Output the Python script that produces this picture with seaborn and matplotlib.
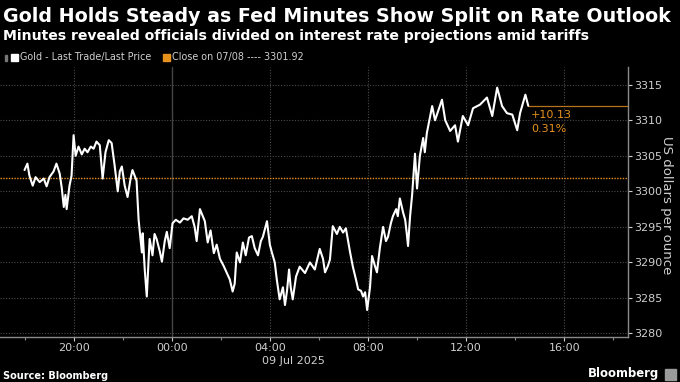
import pandas as pd
import seaborn as sns
import matplotlib.pyplot as plt
import matplotlib.dates as mdates
from matplotlib.patches import Rectangle

# Gold intraday price (times ET, 08-09 Jul 2025)
times = ["18:00", "18:07", "18:12", "18:20", "18:27", "18:37", "18:47", "18:54",
         "19:01", "19:11", "19:18", "19:26", "19:31", "19:36", "19:40", "19:43",
         "19:50", "19:55", "20:00", "20:05", "20:12", "20:20", "20:27", "20:34",
         "20:42", "20:49", "20:56", "21:04", "21:11", "21:18", "21:26", "21:33",
         "21:40", "21:48", "21:53", "21:58", "22:05", "22:12", "22:20", "22:24",
         "22:34", "22:39", "22:47", "22:49", "22:54", "22:59", "23:06", "23:13",
         "23:18", "23:23", "23:31", "23:36", "23:43", "23:48", "23:55", "00:02",
         "00:10", "00:20", "00:29", "00:39", "00:49", "00:56", "01:01", "01:09",
         "01:16", "01:21", "01:28", "01:35", "01:43", "01:50", "01:58", "02:07",
         "02:15", "02:22", "02:29", "02:34", "02:39", "02:47", "02:54", "03:01",
         "03:09", "03:16", "03:23", "03:31", "03:38", "03:43", "03:53", "04:00",
         "04:05", "04:12", "04:17", "04:24", "04:32", "04:37", "04:42", "04:47",
         "04:51", "04:56", "05:04", "05:13", "05:26", "05:38", "05:50", "06:02",
         "06:10", "06:15", "06:22", "06:27", "06:34", "06:44", "06:51", "06:59",
         "07:06", "07:16", "07:23", "07:31", "07:36", "07:43", "07:48", "07:53",
         "07:58", "08:05", "08:10", "08:17", "08:22", "08:29", "08:37", "08:44",
         "08:49", "08:56", "09:01", "09:09", "09:13", "09:18", "09:26", "09:31",
         "09:35", "09:38", "09:43", "09:48", "09:55", "10:00", "10:07", "10:15",
         "10:19", "10:24", "10:37", "10:44", "11:01", "11:09", "11:21", "11:33",
         "11:40", "11:52", "12:05", "12:17", "12:34", "12:51", "13:04", "13:16",
         "13:28", "13:40", "13:53", "14:05", "14:12", "14:25", "14:32"]
prices = [3303.0, 3303.9, 3302.2, 3300.8, 3302.0, 3301.3, 3301.8, 3300.7,
          3302.0, 3302.8, 3303.9, 3302.5, 3300.5, 3297.8, 3299.5, 3297.5,
          3300.8, 3302.2, 3307.9, 3305.0, 3306.3, 3305.2, 3306.0, 3305.5,
          3306.3, 3306.0, 3307.0, 3306.5, 3301.8, 3305.5, 3307.2, 3306.8,
          3303.8, 3300.0, 3302.8, 3303.5, 3300.8, 3299.2, 3302.0, 3303.0,
          3301.5, 3296.0, 3291.4, 3294.1, 3289.0, 3285.2, 3293.3, 3291.0,
          3294.0, 3293.3, 3291.5, 3290.1, 3293.0, 3294.3, 3292.0, 3295.5,
          3296.0, 3295.6, 3296.2, 3296.0, 3296.5, 3295.0, 3293.0, 3297.5,
          3296.5, 3295.8, 3292.8, 3294.5, 3291.3, 3292.5, 3290.5, 3289.5,
          3288.5, 3287.6, 3285.9, 3287.0, 3291.4, 3290.0, 3292.8, 3291.0,
          3293.5, 3293.7, 3292.0, 3291.0, 3293.0, 3293.6, 3295.8, 3292.5,
          3291.4, 3290.0, 3287.6, 3284.8, 3286.5, 3284.0, 3286.0, 3289.0,
          3286.5, 3284.8, 3288.0, 3289.4, 3288.5, 3290.0, 3289.0, 3291.9,
          3290.5, 3288.6, 3289.5, 3290.4, 3295.1, 3294.0, 3295.0, 3294.2,
          3294.8, 3291.5, 3289.4, 3287.5, 3286.2, 3286.0, 3285.2, 3285.8,
          3283.3, 3286.5, 3290.9, 3289.5, 3288.6, 3292.0, 3295.0, 3293.0,
          3293.6, 3295.5, 3296.5, 3297.5, 3296.5, 3299.0, 3297.0, 3296.0,
          3294.0, 3292.3, 3296.5, 3299.5, 3305.3, 3300.4, 3305.0, 3307.5,
          3305.5, 3308.2, 3312.0, 3310.0, 3312.9, 3310.0, 3308.5, 3309.3,
          3307.0, 3310.6, 3309.3, 3311.7, 3312.2, 3313.2, 3310.6, 3314.6,
          3312.0, 3311.0, 3310.8, 3308.6, 3311.0, 3313.6, 3312.05]

prev_close = 3301.92
change = "+10.13"
change_pct = "0.31%"
y_ticks = [3280, 3285, 3290, 3295, 3300, 3305, 3310, 3315]

# turn HH:MM into timestamps, rolling over midnight
day = pd.Timestamp("2025-07-08")
stamps = []
last_h = -1
for t in times:
    h, m = map(int, t.split(":"))
    if h < last_h:
        day += pd.Timedelta(days=1)
    last_h = h
    stamps.append(day + pd.Timedelta(hours=h, minutes=m))
df = pd.DataFrame({"time": stamps, "price": prices})

sns.set_theme(style="dark", rc={"axes.facecolor": "black", "figure.facecolor": "black"})
plt.rcParams["font.family"] = ["DejaVu Sans"]

orange = "#e8921e"
grey = "#cfcfcf"

fig = plt.figure(figsize=(6.8, 3.82), dpi=100)
ax = fig.add_axes([0, 45 / 382, 628 / 680, 270 / 382])

x0 = pd.Timestamp("2025-07-08 17:00")
x1 = pd.Timestamp("2025-07-09 18:36")

ax.axhline(prev_close, color=orange, lw=1.0, ls=(0, (1, 1)), zorder=2)
sns.lineplot(data=df, x="time", y="price", ax=ax, color="white", lw=1.5, zorder=3)
ax.plot([df["time"].iloc[-1], x1], [prices[-1], prices[-1]], color="#b8741c", lw=0.9, zorder=2)
ax.axvline(pd.Timestamp("2025-07-09 00:00"), color="#444444", lw=1.0, zorder=1)

ax.set_xlim(x0, x1)
ax.set_ylim(3279.5, 3317.5)
ax.set_yticks(y_ticks)
ax.yaxis.tick_right()
ax.yaxis.set_label_position("right")
ax.set_xlabel("")
ax.set_ylabel("")

ax.xaxis.set_major_locator(mdates.HourLocator(byhour=[0, 4, 8, 12, 16, 20]))
ax.xaxis.set_minor_locator(mdates.HourLocator(byhour=[2, 6, 10, 14, 18, 22]))
ax.xaxis.set_major_formatter(mdates.DateFormatter("%H:%M"))

ax.grid(True, which="major", color="#4a4a4a", lw=0.8, ls=(0, (1, 1.5)))
for side in ["top", "left"]:
    ax.spines[side].set_visible(False)
ax.spines["bottom"].set_color("#8a8a8a")
ax.spines["right"].set_color("#8a8a8a")
ax.spines["bottom"].set_linewidth(1.0)
ax.spines["right"].set_linewidth(1.0)

ax.tick_params(axis="x", which="major", colors=grey, labelsize=8, length=3, width=0.8, pad=1.5, bottom=True)
ax.tick_params(axis="x", which="minor", color="#8a8a8a", length=2, width=0.8, bottom=True)
ax.tick_params(axis="y", colors=grey, labelsize=8, length=3, width=0.8, pad=1.5, right=True)

# change annotation next to the last price
fig.text(531 / 680, 1 - 115 / 382, change, color=orange, fontsize=8, va="center", ha="left")
fig.text(531 / 680, 1 - 129 / 382, change_pct, color=orange, fontsize=8, va="center", ha="left")

fig.text(667 / 680, 1 - 205 / 382, "US dollars per ounce", color=grey, fontsize=9.5,
         rotation=270, va="center", ha="center")
fig.text(293 / 680, 1 - 361 / 382, "09 Jul 2025", color=grey, fontsize=8, va="center", ha="center")

# header
fig.text(3 / 680, 1 - 16 / 382, "Gold Holds Steady as Fed Minutes Show Split on Rate Outlook",
         color="white", fontsize=13.7, fontweight="bold", va="center", ha="left")
fig.text(3 / 680, 1 - 36 / 382, "Minutes revealed officials divided on interest rate projections amid tariffs",
         color="white", fontsize=10.1, fontweight="bold", va="center", ha="left")

# legend
fig.patches.append(Rectangle((5 / 680, 1 - 61 / 382), 2 / 680, 6 / 382, color="#777777", transform=fig.transFigure))
fig.patches.append(Rectangle((11 / 680, 1 - 61 / 382), 7 / 680, 7 / 382, color="white", transform=fig.transFigure))
fig.text(20 / 680, 1 - 57 / 382, "Gold - Last Trade/Last Price", color=grey, fontsize=6.9, va="center", ha="left")
fig.patches.append(Rectangle((163 / 680, 1 - 61 / 382), 7 / 680, 7 / 382, color=orange, transform=fig.transFigure))
fig.text(172 / 680, 1 - 57 / 382, "Close on 07/08 ---- 3301.92", color=grey, fontsize=6.9, va="center", ha="left")

# footer
fig.text(3 / 680, 1 - 376 / 382, "Source: Bloomberg", color="white", fontsize=7, fontweight="bold",
         va="center", ha="left")
fig.text(659 / 680, 1 - 374 / 382, "Bloomberg", color="white", fontsize=8.4, fontweight="bold",
         va="center", ha="right")
fig.patches.append(Rectangle((665 / 680, 1 - 380 / 382), 11 / 680, 11 / 382, color="#9a9a9a", transform=fig.transFigure))

fig.savefig("out.png", dpi=100, facecolor="black")
